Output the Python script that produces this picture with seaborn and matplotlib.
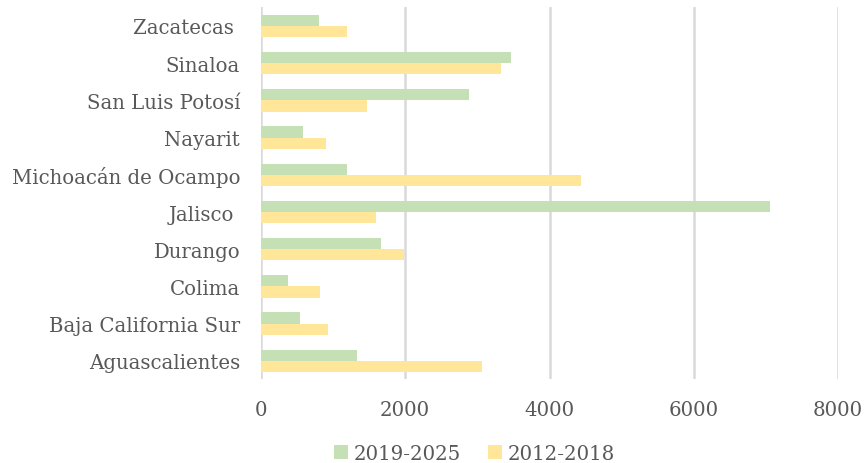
import seaborn as sns
import numpy as np
import pandas as pd
import matplotlib.pyplot as plt

estados = ['Zacatecas ', 'Sinaloa', 'San Luis Potosí', 'Nayarit', 'Michoacán de Ocampo',
           'Jalisco ', 'Durango', 'Colima', 'Baja California Sur', 'Aguascalientes']
v_2019_2025 = [800, 3470, 2890, 590, 1190, 7050, 1660, 380, 540, 1330]
v_2012_2018 = [1190, 3330, 1470, 900, 4440, 1600, 1990, 820, 930, 3060]
periodos = ['2019-2025', '2012-2018']

df = pd.DataFrame({
    'Estado': estados * 2,
    'Valor': v_2019_2025 + v_2012_2018,
    'Periodo': [periodos[0]] * len(estados) + [periodos[1]] * len(estados),
})

sns.set_style('white')
plt.rcParams['font.family'] = ['DejaVu Serif']
gris = '#595959'

fig, ax = plt.subplots(figsize=(8.64, 4.64), dpi=100)
fig.subplots_adjust(left=0.302, right=0.97, top=0.982, bottom=0.18)

sns.barplot(data=df, y='Estado', x='Valor', hue='Periodo', order=estados, hue_order=periodos,
            palette=['#C5E0B4', '#FFE699'], saturation=1, width=0.6, linewidth=0,
            orient='h', ax=ax, zorder=3)

ax.set_xlim(0, 8000)
ax.set_xticks([0, 2000, 4000, 6000, 8000])
ax.xaxis.grid(True, color='#D9D9D9', linewidth=1.8, zorder=0)
ax.yaxis.grid(False)
for s in ax.spines.values():
    s.set_visible(False)
ax.tick_params(axis='both', length=0, colors=gris, labelsize=14.2)
ax.tick_params(axis='x', pad=15)
ax.tick_params(axis='y', pad=15)
ax.set_xlabel('')
ax.set_ylabel('')

ax.legend(loc='upper center', bbox_to_anchor=(0.37, -0.125), ncol=2, frameon=False,
          fontsize=14.2, labelcolor=gris, handlelength=0.7, handleheight=0.7,
          handletextpad=0.3, columnspacing=1.4)

plt.savefig('out.png')
